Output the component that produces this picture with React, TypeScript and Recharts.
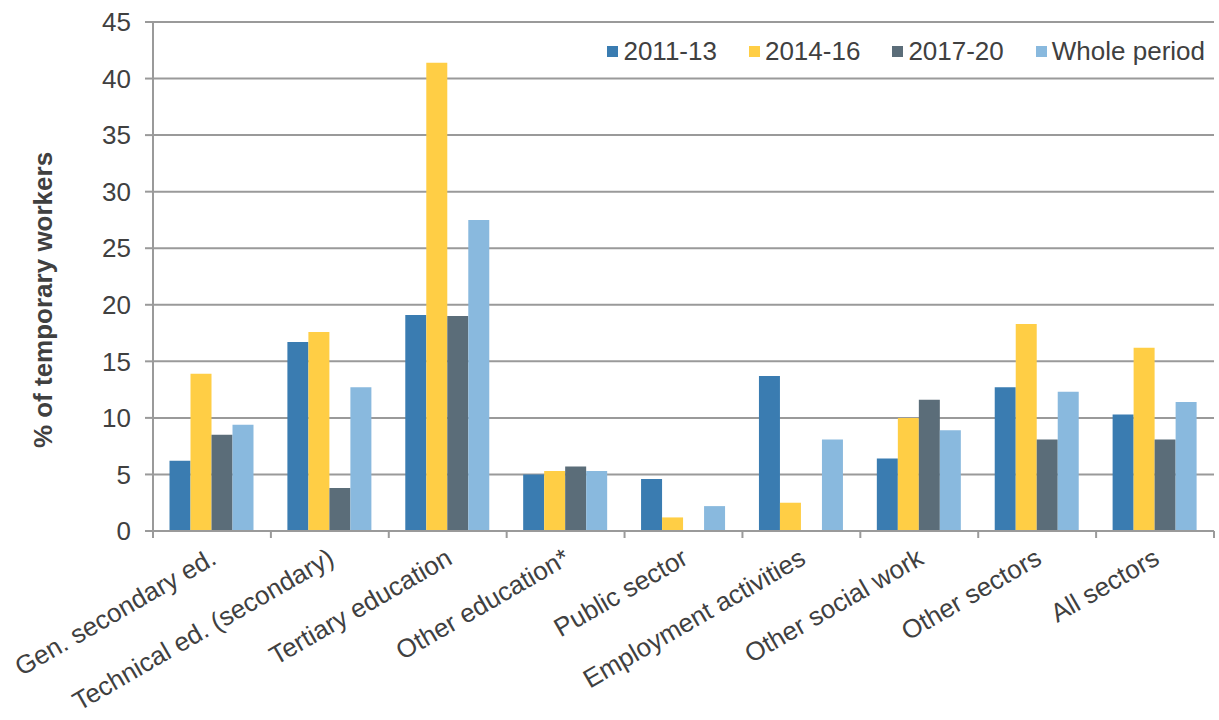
import React from 'react'
import { BarChart, Bar, XAxis, YAxis, CartesianGrid, Legend } from 'recharts'

// ─── Data ─────────────────────────────────────────────────────────────────────

const CATEGORIES = [
  'Gen. secondary ed.',
  'Technical ed. (secondary)',
  'Tertiary education',
  'Other education*',
  'Public sector',
  'Employment activities',
  'Other social work',
  'Other sectors',
  'All sectors',
]

const P2011_13 = [6.2, 16.7, 19.1, 5.0, 4.6, 13.7, 6.4, 12.7, 10.3]
const P2014_16 = [13.9, 17.6, 41.4, 5.3, 1.2, 2.5, 10.0, 18.3, 16.2]
const P2017_20 = [8.5, 3.8, 19.0, 5.7, 0, 0, 11.6, 8.1, 8.1]
const WHOLE = [9.4, 12.7, 27.5, 5.3, 2.2, 8.1, 8.9, 12.3, 11.4]

const Y_TICKS = [0, 5, 10, 15, 20, 25, 30, 35, 40, 45]

const SERIES = [
  { key: 'p1', label: '2011-13', color: '#3A7CB1' },
  { key: 'p2', label: '2014-16', color: '#FFCE45' },
  { key: 'p3', label: '2017-20', color: '#5B6D79' },
  { key: 'p4', label: 'Whole period', color: '#89B9DE' },
]

const data = CATEGORIES.map((name, i) => ({
  name,
  p1: P2011_13[i],
  p2: P2014_16[i],
  p3: P2017_20[i],
  p4: WHOLE[i],
}))

// ─── Styling ──────────────────────────────────────────────────────────────────

const FONT = '"Liberation Sans", Arial, sans-serif'
const TEXT = '#404040'
const LINE = '#9a9a9a'
const FS = 26

function XTick(props: any) {
  const { x, y, payload, index, width } = props
  const band = (width || 1061) / CATEGORIES.length
  const left = x - band / 2
  const right = x + band / 2
  const ax = x + 6
  const ay = y + 24
  return (
    <g>
      <line x1={left} y1={y - 8} x2={left} y2={y - 1} stroke={LINE} strokeWidth={2} />
      {index === CATEGORIES.length - 1 && (
        <line x1={right} y1={y - 8} x2={right} y2={y - 1} stroke={LINE} strokeWidth={2} />
      )}
      <text
        x={ax}
        y={ay}
        textAnchor="end"
        fontSize={FS}
        fontFamily={FONT}
        fill={TEXT}
        transform={`rotate(-30, ${ax}, ${ay})`}
      >
        {payload.value}
      </text>
    </g>
  )
}

function YLabel() {
  return (
    <text
      x={52}
      y={300}
      textAnchor="middle"
      fontSize={FS}
      fontWeight="bold"
      fontFamily={FONT}
      fill={TEXT}
      transform="rotate(-90, 52, 300)"
    >
      % of temporary workers
    </text>
  )
}

function LegendContent() {
  return (
    <div style={{ display: 'flex', gap: 32, fontFamily: FONT, fontSize: FS, color: TEXT, whiteSpace: 'nowrap' }}>
      {SERIES.map((s) => (
        <div key={s.key} style={{ display: 'flex', alignItems: 'center', gap: 5 }}>
          <span style={{ width: 11, height: 11, background: s.color, display: 'inline-block' }} />
          <span>{s.label}</span>
        </div>
      ))}
    </div>
  )
}

export default function App() {
  React.useEffect(() => {
    document.body.style.margin = '0'
  }, [])

  return (
    <div style={{ width: 1219, height: 720, background: '#fff', position: 'relative' }}>
      <BarChart
        width={1219}
        height={720}
        data={data}
        margin={{ top: 22, right: 5, bottom: 9, left: 73 }}
        barCategoryGap="14%"
        barGap={0}
      >
        <CartesianGrid vertical={false} stroke={LINE} strokeWidth={2} />
        <XAxis
          dataKey="name"
          interval={0}
          height={180}
          axisLine={{ stroke: LINE, strokeWidth: 2 }}
          tickLine={false}
          tick={<XTick />}
        />
        <YAxis
          width={80}
          domain={[0, 45]}
          ticks={Y_TICKS}
          interval={0}
          axisLine={{ stroke: LINE, strokeWidth: 2 }}
          tickLine={{ stroke: LINE, strokeWidth: 2 }}
          tickSize={8}
          tickMargin={14}
          tick={{ fontSize: FS, fontFamily: FONT, fill: TEXT }}
          label={<YLabel />}
        />
        <Legend
          verticalAlign="middle"
          align="center"
          layout="horizontal"
          content={<LegendContent />}
          wrapperStyle={{ top: 36, right: 14, left: 'auto', width: 'auto' }}
        />
        {SERIES.map((s) => (
          <Bar key={s.key} dataKey={s.key} name={s.label} fill={s.color} isAnimationActive={false} />
        ))}
      </BarChart>
    </div>
  )
}
